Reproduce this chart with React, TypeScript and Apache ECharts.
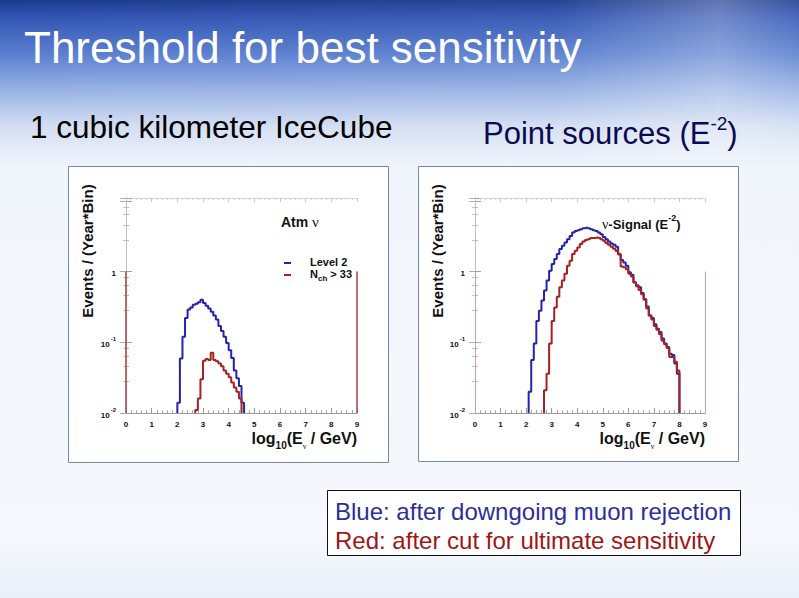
import React, { useEffect, useRef } from "react";
import * as echarts from "echarts";

const W = 799;
const H = 598;
const F = "'Liberation Sans', Arial, Helvetica, sans-serif";
const SERIF = "'Liberation Serif', 'DejaVu Serif', serif";

// ---- histogram data (log10(E/GeV) bins of width 0.1) ----
const BIN = 0.1;
const Y_MIN = 0.01;
const Y_MAX = 11;

const X_MIN = 0;
const X_MAX = 9;

// Left plot: atmospheric neutrinos
const atmLevel2Start = 2.0;
const atmLevel2 = [
  0.014, 0.059, 0.12, 0.22, 0.29, 0.31, 0.34, 0.35, 0.37, 0.4,
  0.36, 0.33, 0.3, 0.27, 0.24, 0.21, 0.17, 0.145, 0.12, 0.098,
  0.077, 0.06, 0.04, 0.031, 0.024, 0.014,
];
const atmNchStart = 2.7;
const atmNch = [
  0.011, 0.016, 0.03, 0.055, 0.058, 0.056, 0.071, 0.056, 0.054, 0.05,
  0.046, 0.04, 0.036, 0.032, 0.027, 0.023, 0.02, 0.016,
];

// Right plot: E^-2 signal
const sigLevel2Start = 2.1;
const sigLevel2 = [
  0.02, 0.056, 0.096, 0.2, 0.28, 0.39, 0.54, 0.75, 1.03, 1.28,
  1.51, 1.77, 2.09, 2.32, 2.58, 2.88, 3.2, 3.57, 3.77, 3.86,
  3.98, 4.11, 4.2, 4.1, 3.98, 3.86, 3.77, 3.57, 3.39, 3.1,
  2.88, 2.67, 2.5, 2.4, 2.25, 1.77, 1.46, 1.35, 1.21, 0.98,
  0.9, 0.71, 0.64, 0.6, 0.5, 0.41, 0.32, 0.24, 0.22, 0.18,
  0.156, 0.14, 0.113, 0.096, 0.086, 0.069, 0.066, 0.05, 0.036,
];
const sigNchStart = 2.7;
const sigNch = [
  0.021, 0.036, 0.096, 0.2, 0.31, 0.44, 0.6, 0.75, 0.93, 1.21,
  1.43, 1.77, 1.97, 2.2, 2.45, 2.67, 2.79, 2.88, 2.98, 2.98,
  3.04, 2.98, 2.88, 2.73, 2.55, 2.4, 2.25, 2.1, 1.95, 1.75,
  1.18, 1.15, 1.08, 0.93, 0.85, 0.7, 0.62, 0.55, 0.48, 0.4,
  0.3, 0.24, 0.21, 0.17, 0.15, 0.13, 0.105, 0.094, 0.083, 0.062,
  0.062, 0.053, 0.04,
];

const BLUE = "#2424aa";
const RED = "#a42222";

function histPoints(start: number, values: number[]) {
  const pts: number[][] = [[start, Y_MIN]];
  values.forEach((v, i) => pts.push([+(start + i * BIN).toFixed(3), v]));
  pts.push([+(start + values.length * BIN).toFixed(3), Y_MIN]);
  return pts;
}

const tickLabelRich = {
  b: { fontSize: 8, fontWeight: "bold", fontFamily: F, color: "#111", verticalAlign: "bottom", padding: [4, 0, 0, 0] },
  s: { fontSize: 6, fontWeight: "bold", fontFamily: F, color: "#111", verticalAlign: "top", padding: [0, 0, 0, 1] },
};

function yLabel(v: number) {
  const e = Math.round(Math.log10(v));
  if (e > 0) return "";
  if (e === 0) return "{b|1}";
  return `{b|10}{s|${e}}`;
}

function bottomX(g: number) {
  return {
    type: "value", gridIndex: g, position: "bottom", min: X_MIN, max: X_MAX, interval: 1,
    axisLine: { lineStyle: { color: "#9a9a9a", width: 1 } },
    axisTick: { inside: true, length: 5, lineStyle: { color: "#9a9a9a" } },
    minorTick: { show: true, splitNumber: 5, length: 3, lineStyle: { color: "#aaaaaa" } },
    axisLabel: { color: "#111", fontSize: 8, fontWeight: "bold", fontFamily: F, margin: 7 },
    splitLine: { show: false },
  };
}
function topX(g: number) {
  return {
    type: "value", gridIndex: g, position: "top", min: X_MIN, max: X_MAX, interval: 1,
    axisLine: { lineStyle: { color: "#cccccc", width: 1, type: "dotted" } },
    axisTick: { inside: true, length: 4, lineStyle: { color: "#c4c4c4" } },
    minorTick: { show: true, splitNumber: 5, length: 2, lineStyle: { color: "#d0d0d0" } },
    axisLabel: { show: false },
    splitLine: { show: false },
  };
}
function leftY(g: number) {
  return {
    type: "log", logBase: 10, gridIndex: g, position: "left", min: Y_MIN, max: Y_MAX,
    axisLine: { show: true, lineStyle: { color: "#b0b0b0", width: 1 } },
    axisTick: { inside: true, length: 6, lineStyle: { color: "#a0a0a0" } },
    minorTick: { show: true, splitNumber: 5, length: 3, lineStyle: { color: "#b8b8b8" } },
    axisLabel: { formatter: yLabel, rich: tickLabelRich, margin: 10 },
    splitLine: { show: false },
  };
}
function rightY(g: number) {
  return {
    type: "log", logBase: 10, gridIndex: g, position: "right", min: Y_MIN, max: Y_MAX,
    axisLine: { show: true, lineStyle: { color: "#c0c0c0", width: 1 } },
    axisTick: { inside: true, length: 6, lineStyle: { color: "#b0b0b0" } },
    minorTick: { show: true, splitNumber: 5, length: 3, lineStyle: { color: "#c8c8c8" } },
    axisLabel: { show: false },
    splitLine: { show: false },
  };
}

function edgeLines(color: string, width: number) {
  return {
    silent: true,
    symbol: ["none", "none"],
    label: { show: false },
    lineStyle: { color, width, type: "solid" },
    data: [
      [{ coord: [X_MIN, 1] }, { coord: [X_MIN, Y_MIN] }],
      [{ coord: [X_MAX, 1] }, { coord: [X_MAX, Y_MIN] }],
    ],
  };
}

function histSeries(name: string, g: number, start: number, values: number[], color: string, extra: any = {}) {
  return {
    name,
    type: "line",
    step: "end",
    xAxisIndex: g * 2,
    yAxisIndex: g * 2,
    data: histPoints(start, values),
    showSymbol: false,
    symbol: "none",
    lineStyle: { color, width: 2 },
    itemStyle: { color },
    z: 5,
    ...extra,
  };
}

function txt(x: number, y: number, text: string, size: number, color: string, opts: any = {}) {
  return {
    type: "text",
    x,
    y,
    z: 20,
    rotation: opts.rotation || 0,
    silent: true,
    style: {
      text,
      fontSize: size,
      fontFamily: F,
      fontWeight: opts.bold ? "bold" : "normal",
      fill: color,
      align: opts.align || "left",
      textAlign: opts.align || "left",
      verticalAlign: "middle",
      textVerticalAlign: "middle",
      rich: opts.rich,
    },
  };
}

export default function App() {
  const ref = useRef<HTMLDivElement>(null);

  useEffect(() => {
    if (!ref.current) return;
    const chart = echarts.init(ref.current, null, { renderer: "svg" });

    const bgGrad = new echarts.graphic.LinearGradient(0, 0, 0, 1, [
      { offset: 0, color: "#1d3a8e" },
      { offset: 0.03, color: "#3356b4" },
      { offset: 0.09, color: "#5a7fcf" },
      { offset: 0.15, color: "#98b2e4" },
      { offset: 0.21, color: "#d3def3" },
      { offset: 0.28, color: "#f1f5fc" },
      { offset: 0.9, color: "#f6f8fd" },
      { offset: 1, color: "#e9eff9" },
    ]);
    const sheen = new echarts.graphic.LinearGradient(0, 0, 1, 0, [
      { offset: 0, color: "rgba(255,255,255,0)" },
      { offset: 0.7, color: "rgba(255,255,255,0.05)" },
      { offset: 0.9, color: "rgba(255,255,255,0.3)" },
      { offset: 1, color: "rgba(255,255,255,0.12)" },
    ]);

    const yName = "Events / (Year*Bin)";
    const xNameRich = {
      b: { fontSize: 16, fontWeight: "bold", fontFamily: F, color: "#111", fill: "#111", verticalAlign: "top", padding: [0, 0, 4, 0] },
      sub: { fontSize: 10, fontWeight: "bold", fontFamily: F, color: "#111", fill: "#111", verticalAlign: "bottom" },
      nu: { fontSize: 8, fontFamily: SERIF, color: "#111", fill: "#111", verticalAlign: "bottom" },
    };
    const xNameText = "{b|log}{sub|10}{b|(E}{nu|ν}{b| / GeV)}";

    const option: any = {
      animation: false,
      graphic: [
        { type: "rect", z: -20, silent: true, shape: { x: 0, y: 0, width: W, height: H }, style: { fill: bgGrad } },
        { type: "rect", z: -19, silent: true, shape: { x: 0, y: 0, width: W, height: 160 }, style: { fill: sheen } },
        { type: "rect", z: -18, silent: true, shape: { x: 68.5, y: 166.5, width: 320, height: 296 }, style: { fill: "#ffffff", stroke: "#7088b8", lineWidth: 1 } },
        { type: "rect", z: -18, silent: true, shape: { x: 418.5, y: 166.5, width: 320, height: 295 }, style: { fill: "#ffffff", stroke: "#7088b8", lineWidth: 1 } },
        { type: "rect", z: -18, silent: true, shape: { x: 327.5, y: 490.5, width: 413, height: 65 }, style: { fill: "#ffffff", stroke: "#111111", lineWidth: 1 } },

        txt(24, 47, "Threshold for best sensitivity", 44, "#ffffff"),
        txt(30, 127, "1 cubic kilometer IceCube", 31.5, "#000000"),
        txt(483, 131, "{a|Point sources (E}{s|-2}{a|)}", 31, "#0a0a50", {
          rich: {
            a: { fontSize: 31, fontFamily: F, color: "#0a0a50", fill: "#0a0a50", verticalAlign: "bottom", padding: [4, 0, 0, 0] },
            s: { fontSize: 19, fontFamily: F, color: "#0a0a50", fill: "#0a0a50", verticalAlign: "top" },
          },
        }),

        txt(87, 251, yName, 15, "#111", { bold: true, align: "center", rotation: Math.PI / 2 }),
        txt(437, 251, yName, 15, "#111", { bold: true, align: "center", rotation: Math.PI / 2 }),
        txt(357, 440, xNameText, 16, "#111", { align: "right", rich: xNameRich }),
        txt(705, 440, xNameText, 16, "#111", { align: "right", rich: xNameRich }),

        txt(281, 222, "{b|Atm }{n|ν}", 14, "#111", {
          rich: {
            b: { fontSize: 14, fontWeight: "bold", fontFamily: F, color: "#111", fill: "#111" },
            n: { fontSize: 15, fontFamily: SERIF, color: "#111", fill: "#111" },
          },
        }),
        txt(602, 222, "{n|ν}{b|-Signal (E}{s|-2}{b|)}", 13, "#111", {
          rich: {
            n: { fontSize: 14, fontFamily: SERIF, color: "#111", fill: "#111", verticalAlign: "bottom", padding: [4, 0, 0, 0] },
            b: { fontSize: 13, fontWeight: "bold", fontFamily: F, color: "#111", fill: "#111", verticalAlign: "bottom", padding: [4, 0, 0, 0] },
            s: { fontSize: 9, fontWeight: "bold", fontFamily: F, color: "#111", fill: "#111", verticalAlign: "top" },
          },
        }),

        txt(335, 511, "Blue: after downgoing muon rejection", 24, "#2e2e9a"),
        txt(335, 540, "Red: after cut for ultimate sensitivity", 24, "#9e1616"),
      ],
      legend: {
        data: ["Level 2", "N_ch > 33"],
        left: 279,
        top: 251,
        orient: "vertical",
        icon: "rect",
        itemWidth: 7,
        itemHeight: 2,
        itemGap: 1,
        selectedMode: false,
        formatter: (name: string) => (name === "Level 2" ? "{b|Level 2}" : "{b|N}{sub|ch}{b| > 33}"),
        textStyle: {
          padding: [0, 0, 0, 14],
          rich: {
            b: { fontSize: 11, fontWeight: "bold", fontFamily: F, color: "#111", verticalAlign: "top", padding: [0, 0, 3, 0] },
            sub: { fontSize: 8, fontWeight: "bold", fontFamily: F, color: "#111", verticalAlign: "bottom" },
          },
        },
      },
      grid: [
        { left: 126, top: 198, width: 231, height: 215, containLabel: false },
        { left: 475, top: 198, width: 230, height: 215, containLabel: false },
      ],
      xAxis: [bottomX(0), topX(0), bottomX(1), topX(1)],
      yAxis: [leftY(0), rightY(0), leftY(1), rightY(1)],
      series: [
        histSeries("Level 2", 0, atmLevel2Start, atmLevel2, BLUE),
        histSeries("N_ch > 33", 0, atmNchStart, atmNch, RED, { markLine: edgeLines("#a84040", 1.5) }),
        histSeries("Level 2 (signal)", 1, sigLevel2Start, sigLevel2, BLUE),
        histSeries("N_ch > 33 (signal)", 1, sigNchStart, sigNch, RED, { markLine: edgeLines("#d0a0a0", 1) }),
      ],
    };

    chart.setOption(option);
    return () => chart.dispose();
  }, []);

  return (
    <div
      ref={ref}
      style={{ position: "absolute", left: 0, top: 0, width: W, height: H, overflow: "hidden" }}
    />
  );
}
